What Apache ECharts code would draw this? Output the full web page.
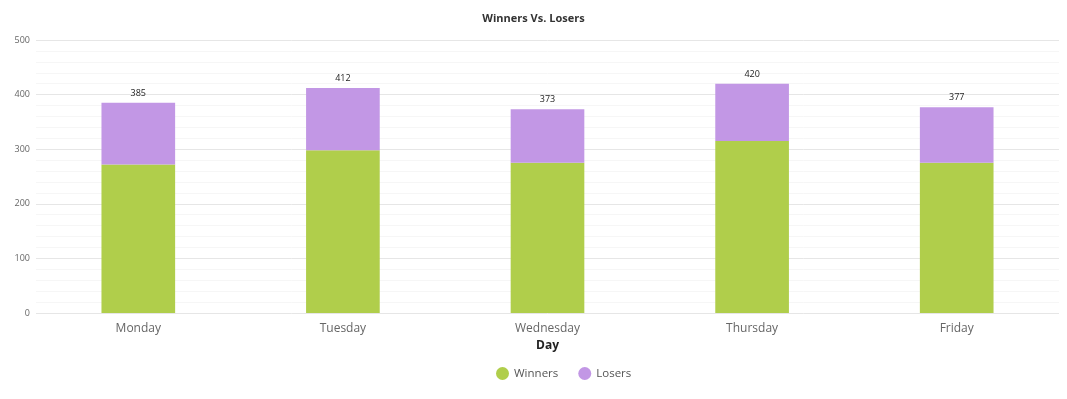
<!DOCTYPE html>
<html><head><meta charset="utf-8">
<script src="https://cdn.jsdelivr.net/npm/echarts@6/dist/echarts.min.js"></script>
<style>html,body{margin:0;padding:0;background:#fff}#c{width:1067px;height:399px}</style>
</head><body><div id="c"></div>
<script>
const categories = ['Monday','Tuesday','Wednesday','Thursday','Friday'];
const winners = [272, 298, 275, 315, 275];
const losers = [113, 114, 98, 105, 102];
const totals = winners.map((w,i)=>w+losers[i]);
const yTicks = [0,100,200,300,400,500];

const FONT = "'Open Sans', sans-serif";
const chart = echarts.init(document.getElementById('c'));
chart.setOption({
  animation:false,
  textStyle:{fontFamily:FONT},
  title:{text:'Winners Vs. Losers', left:'center', top:8,
    textStyle:{fontSize:11, fontWeight:'bold', color:'#333', fontFamily:FONT}},
  grid:{left:36, right:8, top:40, bottom:86},
  legend:{data:['Winners','Losers'], left:491, top:362, icon:'circle', itemWidth:13, itemHeight:13, itemGap:20,
    textStyle:{fontSize:11.5, color:'#555', fontFamily:FONT}},
  xAxis:{type:'category', data:categories, name:'Day', nameLocation:'middle', nameGap:27,
    nameTextStyle:{fontSize:12, fontWeight:'bold', color:'#222', fontFamily:FONT},
    axisLine:{show:false}, axisTick:{show:false},
    axisLabel:{fontSize:12, color:'#666', margin:10, fontFamily:FONT}},
  yAxis:{type:'value', min:0, max:500, interval:100,
    axisLabel:{fontSize:9, color:'#666', margin:6, fontFamily:FONT,
      formatter:v=>yTicks.includes(v)?String(v):''},
    splitLine:{lineStyle:{color:'#e6e6e6'}},
    minorTick:{show:false, splitNumber:5},
    minorSplitLine:{show:true, lineStyle:{color:'#f6f6f6'}}},
  series:[
    {name:'Winners', type:'bar', stack:'s', data:winners, barWidth:'36%',
      itemStyle:{color:'#b0ce4b'}},
    {name:'Losers', type:'bar', stack:'s', data:losers, barWidth:'36%',
      itemStyle:{color:'#c297e5'},
      label:{show:true, position:'top', distance:5, fontSize:9, color:'#222', fontFamily:FONT,
        formatter:p=>String(totals[p.dataIndex])}}
  ]
});
</script></body></html>
